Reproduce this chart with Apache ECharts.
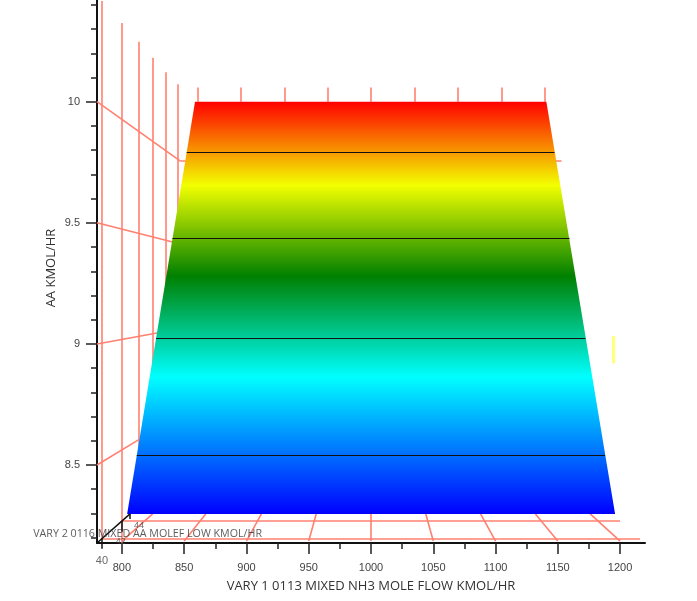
<!DOCTYPE html>
<html lang="en">
<head>
    <meta charset="UTF-8">
    <script src="https://cdn.jsdelivr.net/npm/echarts@6/dist/echarts.min.js"></script>
</head>
<style>
    html, body {
        margin: 0;
        background: #fff;
    }
</style>
<body>
<div id="main" style="width:697px;height:601px;"></div>

<script type="text/javascript">
    // axis ticks and labels
    const xMajor = [800, 850, 900, 950, 1000, 1050, 1100, 1150, 1200];
    const xMinor = [825, 875, 925, 975, 1025, 1075, 1125, 1175];
    const yMajor = [8.5, 9, 9.5, 10];
    const yMinor = [8.2, 8.3, 8.4, 8.6, 8.7, 8.8, 8.9, 9.1, 9.2, 9.3, 9.4, 9.6, 9.7, 9.8, 9.9, 10.1, 10.2, 10.3, 10.4];

    // surface outline as [x, y]
    const surface = [[858.7, 10], [1140.8, 10], [1196, 8.298], [804.2, 8.298]];
    // colour ramp of the surface: y value and colour
    const rampLevels = [10, 9.655, 9.28, 8.863, 8.298];
    const rampColors = ['#ff0000', '#f2ff00', '#008000', '#00ffff', '#0000ff'];

    // black contours on the surface
    const contourY = [9.792, 9.437, 9.024, 8.541];
    const contourLeft = [852, 840.6, 827.4, 811.9];
    const contourRight = [1147.3, 1159.4, 1172.2, 1187.9];

    // back wall verticals: x, top y, bottom y
    const wallX = [784, 800, 813.2, 824.7, 835.4, 844.8];
    const wallTop = [10.416, 10.325, 10.248, 10.182, 10.122, 10.072];
    const wallBottom = [8.19, 8.178, 8.4, 8.4, 8.6, 8.6];
    // short verticals above the surface top edge
    const topTickX = [860.9, 895.6, 930.6, 965.5, 1000.2, 1035.1, 1069.9, 1104.7, 1139.5];
    const topTickY = [10, 10.059];

    // lines from the y axis into the back wall
    const rayStartY = [10, 9.5, 9, 8.5];
    const rayEndX = [847, 841.5, 828.2, 813.6];
    const rayEndY = [9.755, 9.42, 9.045, 8.605];
    const backWallY = [9.755];
    const backWallX = [[847, 870], [1145, 1153]];

    // floor lines
    const floorY = [8.194, 8.268];
    const floorXEnd = [[784, 1216], [800, 1200]];
    const floorBottomX = [800, 850, 900, 950, 1000, 1050, 1100, 1150, 1200];
    const floorTopX = [824.7, 867.3, 912, 956, 1000, 1044, 1088, 1132, 1176];
    const floorBottomY = 8.186;
    const floorTopY = 8.298;

    // depth axis
    const depthLine = [[780, 8.178], [806.5, 8.298]];
    const depthTicks = [[784, 8.198, 8.154], [800, 8.269, 8.224], [806.5, 8.298, 8.277]];
    const depthLabels = ['40', '42', '44'];
    const depthLabelPos = [[784, 8.104], [799, 8.186], [813.7, 8.249]];
    const depthTitle = 'VARY 2 0116 MIXED AA MOLEF LOW KMOL/HR';
    const depthTitlePos = [[820.6, 8.215]];

    // pale yellow strip to the right of the surface
    const stripX = 1194.6;
    const stripY = [9.033, 8.92];

    const salmon = '#ff8070';
    const tickFont = '"Liberation Sans", sans-serif';
    const titleFont = '"Open Sans", sans-serif';

    function seg(x1, y1, x2, y2) {
        return {coords: [[x1, y1], [x2, y2]]};
    }

    let wallLines = [];
    wallX.forEach(function (x, i) {
        wallLines.push(seg(x, wallTop[i], x, wallBottom[i]));
    });
    topTickX.forEach(function (x) {
        wallLines.push(seg(x, topTickY[0], x, topTickY[1]));
    });
    rayStartY.forEach(function (y, i) {
        wallLines.push(seg(780, y, rayEndX[i], rayEndY[i]));
    });
    backWallX.forEach(function (p) {
        wallLines.push(seg(p[0], backWallY[0], p[1], backWallY[0]));
    });
    floorY.forEach(function (y, i) {
        wallLines.push(seg(floorXEnd[i][0], y, floorXEnd[i][1], y));
    });
    floorBottomX.forEach(function (x, i) {
        wallLines.push(seg(x, floorBottomY, floorTopX[i], floorTopY));
    });

    let contourLines = contourY.map(function (y, i) {
        return seg(contourLeft[i], y, contourRight[i], y);
    });

    let depthLines = [{coords: depthLine}];
    depthTicks.forEach(function (t) {
        depthLines.push(seg(t[0], t[1], t[0], t[2]));
    });

    function renderSurface(params, api) {
        const pts = surface.map(function (p) {
            return api.coord(p);
        });
        const top = rampLevels[0];
        const span = top - rampLevels[rampLevels.length - 1];
        return {
            type: 'polygon',
            shape: {points: pts},
            style: {
                fill: new echarts.graphic.LinearGradient(0, 0, 0, 1, rampLevels.map(function (lv, i) {
                    return {offset: (top - lv) / span, color: rampColors[i]};
                }))
            }
        };
    }

    let myEcharts = echarts.init(document.getElementById('main'));

    let option = {
        animation: false,
        backgroundColor: '#fff',
        grid: {left: 97, top: 0, width: 548, height: 543, outerBoundsMode: 'none'},
        xAxis: [
            {
                type: 'value',
                min: 780,
                max: 1220,
                name: 'VARY 1 0113 MIXED NH3 MOLE FLOW KMOL/HR',
                nameLocation: 'middle',
                nameGap: 37,
                nameMoveOverlap: false,
                nameTextStyle: {fontFamily: titleFont, fontSize: 13, color: '#333'},
                splitLine: {show: false},
                axisLine: {onZero: false, lineStyle: {color: '#111', width: 2}},
                axisTick: {length: 11, customValues: xMajor, lineStyle: {color: '#222', width: 1.5}},
                axisLabel: {
                    customValues: xMajor,
                    margin: 19,
                    fontFamily: tickFont,
                    fontSize: 11,
                    color: '#444',
                    hideOverlap: false,
                    formatter: function (v) {
                        return String(v);
                    }
                }
            },
            {
                type: 'value',
                min: 780,
                max: 1220,
                position: 'bottom',
                splitLine: {show: false},
                axisLine: {show: false},
                axisTick: {length: 6, customValues: xMinor, lineStyle: {color: '#222', width: 1.5}},
                axisLabel: {show: false}
            }
        ],
        yAxis: [
            {
                type: 'value',
                min: 8.178,
                max: 10.42,
                name: 'AA KMOL/HR',
                nameLocation: 'middle',
                nameGap: 39,
                nameMoveOverlap: false,
                nameTextStyle: {fontFamily: titleFont, fontSize: 13, color: '#333', padding: [0, 0, 0, 7]},
                splitLine: {show: false},
                axisLine: {onZero: false, lineStyle: {color: '#111', width: 2}},
                axisTick: {length: 11, customValues: yMajor, lineStyle: {color: '#222', width: 1.5}},
                axisLabel: {
                    customValues: yMajor,
                    margin: 17,
                    fontFamily: tickFont,
                    fontSize: 11,
                    color: '#444',
                    hideOverlap: false,
                    formatter: function (v) {
                        return String(v);
                    }
                }
            },
            {
                type: 'value',
                min: 8.178,
                max: 10.42,
                position: 'left',
                splitLine: {show: false},
                axisLine: {show: false},
                axisTick: {length: 6, customValues: yMinor, lineStyle: {color: '#222', width: 1.5}},
                axisLabel: {show: false}
            }
        ],
        series: [
            {
                type: 'lines',
                coordinateSystem: 'cartesian2d',
                z: 2,
                silent: true,
                lineStyle: {color: salmon, width: 1.6, opacity: 1},
                data: wallLines
            },
            {
                type: 'custom',
                coordinateSystem: 'cartesian2d',
                z: 3,
                silent: true,
                data: [0],
                renderItem: renderSurface
            },
            {
                type: 'lines',
                coordinateSystem: 'cartesian2d',
                z: 4,
                silent: true,
                lineStyle: {color: '#111', width: 1.2, opacity: 1},
                data: contourLines
            },
            {
                type: 'lines',
                coordinateSystem: 'cartesian2d',
                z: 4,
                silent: true,
                clip: false,
                lineStyle: {color: '#111', width: 1.5, opacity: 1},
                data: depthLines
            },
            {
                type: 'lines',
                coordinateSystem: 'cartesian2d',
                z: 4,
                silent: true,
                lineStyle: {color: '#ffff80', width: 3.3, opacity: 1},
                data: [seg(stripX, stripY[0], stripX, stripY[1])]
            },
            {
                type: 'scatter',
                z: 5,
                silent: true,
                clip: false,
                symbolSize: 0,
                data: depthLabelPos.map(function (p, i) {
                    return {value: p, name: depthLabels[i], label: {fontSize: i === 0 ? 11 : 9}};
                }),
                label: {
                    show: true,
                    position: 'inside',
                    formatter: '{b}',
                    fontFamily: tickFont,
                    color: '#444'
                }
            },
            {
                type: 'scatter',
                z: 6,
                silent: true,
                clip: false,
                symbolSize: 0,
                data: depthTitlePos.map(function (p) {
                    return {value: p, name: depthTitle};
                }),
                label: {
                    show: true,
                    position: 'inside',
                    formatter: '{b}',
                    fontFamily: titleFont,
                    fontSize: 10.7,
                    color: '#333'
                }
            }
        ]
    };
    myEcharts.setOption(option);
</script>
</body>
</html>
